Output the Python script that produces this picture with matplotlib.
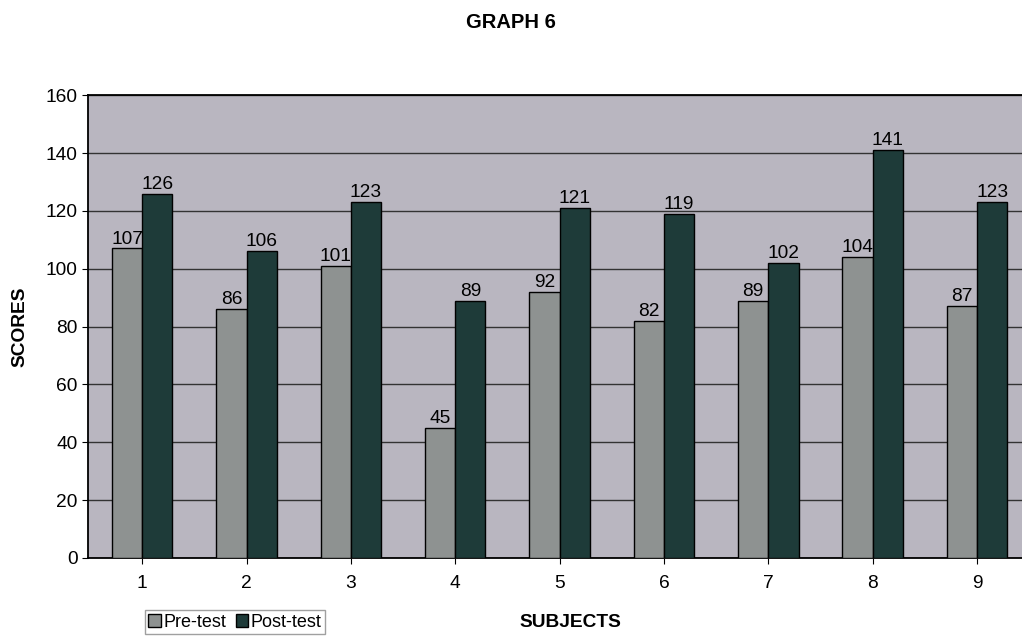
import numpy as np
import matplotlib
matplotlib.use("Agg")
import matplotlib.pyplot as plt
from matplotlib.patches import Patch

subjects = ["1", "2", "3", "4", "5", "6", "7", "8", "9"]
pre_test = [107, 86, 101, 45, 92, 82, 89, 104, 87]
post_test = [126, 106, 123, 89, 121, 119, 102, 141, 123]

PRE_COLOR = "#8e9291"
POST_COLOR = "#1e3b39"
BG_COLOR = "#b9b6c0"
FS = 13.8

plt.rcParams["font.family"] = ["Liberation Sans", "DejaVu Sans"]

fig = plt.figure(figsize=(10.22, 6.39), dpi=100)
ax = fig.add_axes([0.086, 0.127, 0.919, 0.724])
ax.set_facecolor(BG_COLOR)

x = np.arange(len(subjects))
w = 0.29
b1 = ax.bar(x - w / 2, pre_test, w, color=PRE_COLOR, edgecolor="black", linewidth=1.0, zorder=3)
b2 = ax.bar(x + w / 2, post_test, w, color=POST_COLOR, edgecolor="black", linewidth=1.0, zorder=3)

for rect, v in zip(b1, pre_test):
    ax.text(rect.get_x() + rect.get_width() / 2, v + 0.3, str(v), ha="center", va="bottom", fontsize=FS, zorder=4)
for rect, v in zip(b2, post_test):
    ax.text(rect.get_x() + rect.get_width() / 2, v + 0.3, str(v), ha="center", va="bottom", fontsize=FS, zorder=4)

ax.set_xlim(-0.52, 8.48)
ax.set_ylim(0, 160)
ax.set_yticks(range(0, 161, 20))
ax.set_xticks(x)
ax.set_xticklabels(subjects)
ax.tick_params(axis="both", labelsize=FS, length=4, color="black")
ax.tick_params(axis="x", pad=8)
ax.yaxis.grid(True, color="#333333", linewidth=1.0, zorder=0)
for s in ["left", "bottom", "top"]:
    ax.spines[s].set_color("black")
    ax.spines[s].set_linewidth(1.3)
ax.spines["right"].set_visible(False)

ax.set_ylabel("SCORES", fontsize=FS, fontweight="bold", labelpad=12)
fig.text(0.558, 0.026, "SUBJECTS", ha="center", va="center", fontsize=FS, fontweight="bold")
fig.text(0.5, 0.965, "GRAPH 6", ha="center", va="center", fontsize=14.5, fontweight="bold")

handles = [Patch(facecolor=PRE_COLOR, edgecolor="black"), Patch(facecolor=POST_COLOR, edgecolor="black")]
fig.legend(handles, ["Pre-test", "Post-test"], loc="center", bbox_to_anchor=(0.230, 0.026),
           ncol=2, fontsize=13, frameon=True, fancybox=False, edgecolor="#888888",
           handlelength=0.7, handleheight=0.7, handletextpad=0.15, columnspacing=0.5,
           borderpad=0.2)

fig.savefig("out.png", dpi=100)
